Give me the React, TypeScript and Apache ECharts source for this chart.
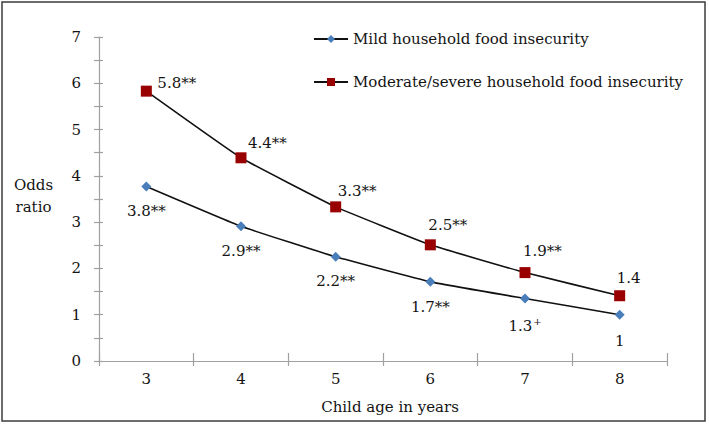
import React, { useEffect, useRef } from "react";
import * as echarts from "echarts";

const ages = ["3", "4", "5", "6", "7", "8"];
const mildValues = [3.77, 2.91, 2.25, 1.71, 1.35, 1.0];
const moderateValues = [5.83, 4.39, 3.33, 2.51, 1.91, 1.41];
const mildLabels = ["3.8**", "2.9**", "2.2**", "1.7**", "{n|1.3}{s|+}", "1"];
const moderateLabels = ["5.8**", "4.4**", "3.3**", "2.5**", "1.9**", "1.4"];
const mildOffsets = [[0, 10], [0, 11], [0, 10], [0, 11], [0, 13], [0, 12]];
const moderateOffsets = [[0.5, -8], [-3.5, -15], [-8.5, -16], [-12.5, -20], [-12.5, -22], [-13.5, -18]];
const seriesNames = ["Mild household food insecurity", "Moderate/severe household food insecurity"];
const yTicks = [0, 1, 2, 3, 4, 5, 6, 7];

const FONT = "DejaVu Serif";
const TXT = "#141414";
const AXIS = "#a0a0a0";

export default function App() {
  const ref = useRef<HTMLDivElement>(null);
  useEffect(() => {
    if (!ref.current) return;
    const chart = echarts.init(ref.current, null, { renderer: "svg" });
    const labelBase = { fontFamily: FONT, fontSize: 15, color: TXT, lineHeight: 18 };
    chart.setOption({
      animation: false,
      backgroundColor: "#ffffff",
      textStyle: { fontFamily: FONT },
      grid: { left: 99, right: 42, top: 37, bottom: 65, containLabel: false },
      legend: {
        orient: "vertical",
        left: 308,
        top: 25,
        itemWidth: 34,
        itemHeight: 10,
        itemGap: 25,
        textStyle: { fontFamily: FONT, fontSize: 15, color: TXT, lineHeight: 18 },
        data: seriesNames,
      },
      xAxis: [
        {
          type: "category",
          data: ages,
          boundaryGap: true,
          axisLine: { lineStyle: { color: AXIS, width: 1.2 } },
          axisTick: { show: true, length: 5, inside: false, lineStyle: { color: AXIS, width: 1.2 } },
          axisLabel: { fontFamily: FONT, fontSize: 15, color: TXT, margin: 10 },
          splitLine: { show: false },
        },
        {
          type: "category",
          data: ages,
          position: "bottom",
          boundaryGap: true,
          axisLine: { show: false },
          axisTick: { show: true, length: 8, inside: true, lineStyle: { color: AXIS, width: 1.2 } },
          axisLabel: { show: false },
          splitLine: { show: false },
        },
      ],
      yAxis: [
        {
          type: "value",
          min: 0,
          max: 7,
          interval: 0.5,
          axisLine: { show: true, lineStyle: { color: AXIS, width: 1.2 } },
          axisTick: { show: true, length: 5, inside: false, lineStyle: { color: AXIS, width: 1.2 } },
          axisLabel: {
            fontFamily: FONT,
            fontSize: 15,
            color: TXT,
            margin: 18,
            formatter: (v: number) => (yTicks.includes(v) ? String(v) : ""),
          },
          splitLine: { show: false },
        },
        {
          type: "value",
          min: 0,
          max: 7,
          interval: 0.5,
          position: "left",
          axisLine: { show: false },
          axisTick: { show: true, length: 4, inside: true, lineStyle: { color: AXIS, width: 1.2 } },
          axisLabel: { show: false },
          splitLine: { show: false },
        },
      ],
      graphic: [
        {
          type: "rect",
          shape: { x: 2, y: 2, width: 703, height: 419 },
          style: { fill: "none", stroke: "#3c3c3c", lineWidth: 1.5 },
          silent: true,
        },
        {
          type: "text",
          style: {
            text: "Odds\nratio",
            x: 33.5,
            y: 196,
            align: "center",
            verticalAlign: "middle",
            fontFamily: FONT,
            fontSize: 15,
            lineHeight: 22,
            fill: TXT,
          },
        },
        {
          type: "text",
          style: {
            text: "Child age in years",
            x: 390,
            y: 407,
            align: "center",
            verticalAlign: "middle",
            fontFamily: FONT,
            fontSize: 15,
            fill: TXT,
          },
        },
      ],
      series: [
        {
          name: seriesNames[0],
          type: "line",
          data: mildValues.map((v, i) => ({
            value: v,
            label: {
              show: true,
              position: "bottom",
              distance: 0,
              offset: mildOffsets[i],
              formatter: mildLabels[i],
              ...labelBase,
              rich: {
                n: { fontFamily: FONT, fontSize: 15, color: TXT },
                s: { fontFamily: FONT, fontSize: 10, color: TXT, verticalAlign: "top", padding: [0, 0, 8, 1] },
              },
            },
          })),
          smooth: 0.1,
          symbol: "diamond",
          symbolSize: 10,
          itemStyle: { color: "#4a7ebb" },
          lineStyle: { color: "#111111", width: 1.6 },
          z: 3,
        },
        {
          name: seriesNames[1],
          type: "line",
          data: moderateValues.map((v, i) => ({
            value: v,
            label: {
              show: true,
              position: "right",
              distance: 5,
              offset: moderateOffsets[i],
              formatter: moderateLabels[i],
              ...labelBase,
            },
          })),
          smooth: 0.1,
          symbol: "rect",
          symbolSize: 11,
          itemStyle: { color: "#990000" },
          lineStyle: { color: "#111111", width: 1.6 },
          z: 4,
        },
      ],
    });
    return () => chart.dispose();
  }, []);
  return (
    <div
      ref={ref}
      style={{ position: "fixed", left: 0, top: 0, width: 709, height: 426 }}
    />
  );
}
